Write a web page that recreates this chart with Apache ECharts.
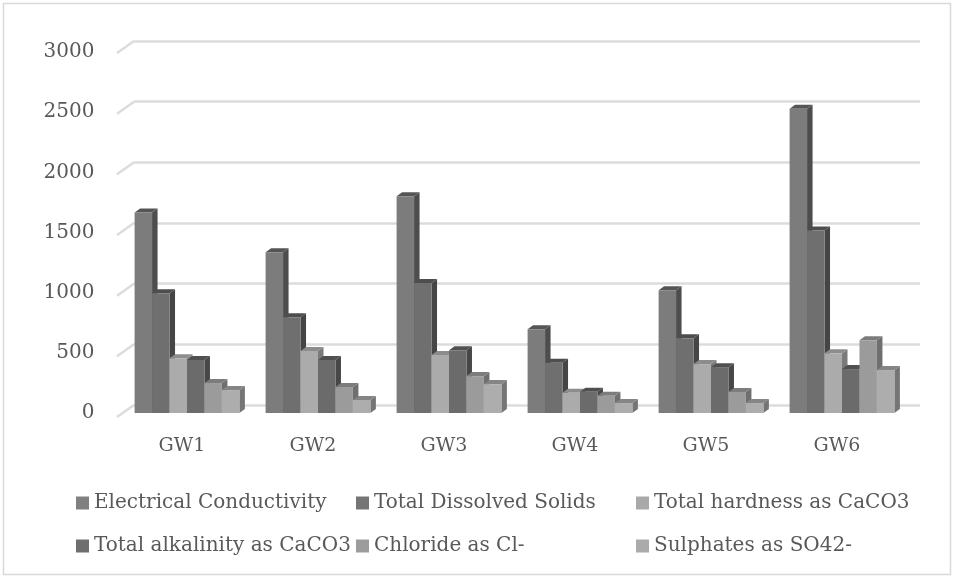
<!DOCTYPE html>
<html>
<head>
<meta charset="utf-8">
<style>html,body{margin:0;padding:0;background:#fff}#c{width:958px;height:580px}</style>
<script src="https://cdn.jsdelivr.net/npm/echarts@6/dist/echarts.min.js"></script>
</head>
<body>
<div id="c"></div>
<script>
const categories = ['GW1','GW2','GW3','GW4','GW5','GW6'];
const electricalConductivity = [1653,1324,1787,691,1011,2508];
const totalDissolvedSolids = [987,790,1071,414,617,1505];
const totalHardness = [452,510,477,167,403,493];
const totalAlkalinity = [436,436,518,175,378,362];
const chloride = [247,214,304,142,173,600];
const sulphates = [189,107,238,82,82,354];
const yTicks = [0,500,1000,1500,2000,2500,3000];

const names = ['Electrical Conductivity','Total Dissolved Solids','Total hardness as CaCO3','Total alkalinity as CaCO3','Chloride as Cl-','Sulphates as SO42-'];
const values = [electricalConductivity,totalDissolvedSolids,totalHardness,totalAlkalinity,chloride,sulphates];
const front = ['#7c7c7c','#6f6f6f','#ababab','#6b6b6b','#9b9b9b','#adadad'];
const side  = ['#4d4d4d','#454545','#7a7a7a','#474747','#6f6f6f','#757575'];
const top_  = ['#555555','#4e4e4e','#8c8c8c','#505050','#7c7c7c','#858585'];
const legendColor = ['#808080','#757575','#a9a9a9','#6e6e6e','#9c9c9c','#ababab'];
const legendPos = [[71,488],[351,488],[631,488],[71,531],[351,531],[631,531]];
const FONT = 'DejaVu Serif';
const DX = 5.5, DY = 4;

function barSeries(i){
  return {
    type:'custom', name:names[i], xAxisIndex:2, yAxisIndex:2, z:5+i,
    itemStyle:{color:legendColor[i]},
    encode:{x:0,y:1},
    data:values[i].map((v,k)=>[k,v]),
    renderItem(params,api){
      const base = api.coord([api.value(0),0]);
      const topP = api.coord([api.value(0),api.value(1)]);
      const w = api.size([1,0])[0]*0.8/6;
      const x0 = base[0]+(i-3)*w, x1 = x0+w, y0 = base[1], y1 = topP[1];
      return {type:'group',children:[
        {type:'polygon',shape:{points:[[x1,y0],[x1+DX,y0-DY],[x1+DX,y1-DY],[x1,y1]]},style:{fill:side[i]}},
        {type:'polygon',shape:{points:[[x0,y1],[x0+DX,y1-DY],[x1+DX,y1-DY],[x1,y1]]},style:{fill:top_[i]}},
        {type:'rect',shape:{x:x0,y:y1,width:w,height:y0-y1},style:{fill:front[i]}}
      ]};
    }
  };
}
const tickSeries = {
  type:'custom', xAxisIndex:1, yAxisIndex:1, z:2, silent:true,
  data:yTicks.map(v=>[0,v]),
  encode:{y:1},
  renderItem(params,api){
    const p = api.coord([0,api.value(1)]);
    const x = params.coordSys.x;
    return {type:'line',shape:{x1:x,y1:p[1],x2:x-17,y2:p[1]+12},style:{stroke:'#dcdcdc',lineWidth:2.5}};
  }
};
const option = {
  animation:false,
  backgroundColor:'#fff',
  graphic:[{type:'rect',silent:true,z:0,shape:{x:3.5,y:3.5,width:947,height:571},style:{fill:'none',stroke:'#d9d9d9',lineWidth:1.5}}],
  grid:[
    {left:116.5,top:52,width:786,height:361},
    {left:134,top:41,width:786,height:364},
    {left:121.5,top:49,width:786,height:364}
  ],
  xAxis:[
    {gridIndex:0,type:'category',data:categories,axisLine:{show:false},axisTick:{show:false},
     axisLabel:{color:'#595959',fontFamily:FONT,fontSize:19,margin:24}},
    {gridIndex:1,type:'category',data:categories,show:false},
    {gridIndex:2,type:'category',data:categories,show:false}
  ],
  yAxis:[
    {gridIndex:0,type:'value',min:0,max:3000,interval:500,axisLine:{show:false},axisTick:{show:false},splitLine:{show:false},
     axisLabel:{color:'#595959',fontFamily:FONT,fontSize:20,margin:22,formatter:v=>String(v)}},
    {gridIndex:1,type:'value',min:0,max:3000,interval:500,axisLine:{show:false},axisTick:{show:false},axisLabel:{show:false},
     splitLine:{show:true,lineStyle:{color:'#dcdcdc',width:2.5}}},
    {gridIndex:2,type:'value',min:0,max:3000,interval:500,show:false,splitLine:{show:false}}
  ],
  legend:names.map((n,i)=>({
    data:[n],left:legendPos[i][0],top:legendPos[i][1],itemWidth:13,itemHeight:13,itemGap:6,
    icon:'rect',selectedMode:false,
    textStyle:{color:'#595959',fontFamily:FONT,fontSize:20,padding:[4,0,0,0]}
  })),
  series:[tickSeries,...names.map((n,i)=>barSeries(i))]
};
echarts.init(document.getElementById('c'),null,{renderer:'canvas'}).setOption(option);
</script>
</body>
</html>
